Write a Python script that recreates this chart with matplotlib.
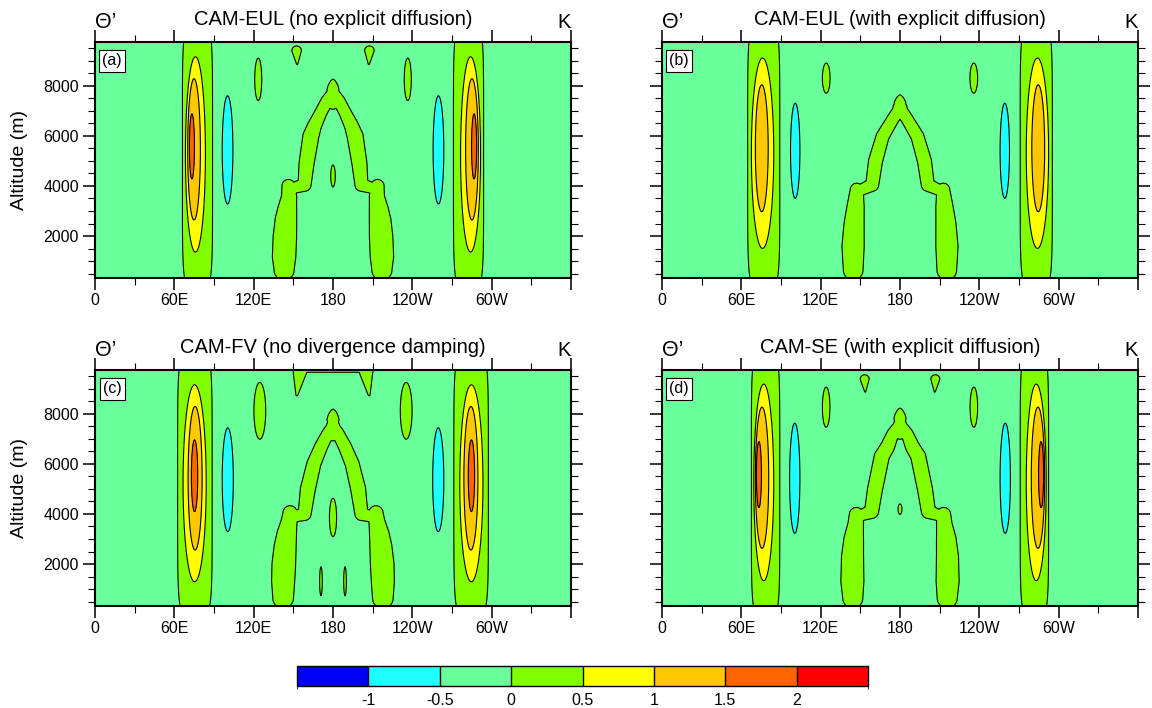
import numpy as np
import matplotlib
matplotlib.use("Agg")
import matplotlib.pyplot as plt
from matplotlib.colors import ListedColormap, BoundaryNorm
import matplotlib.colorbar as mcolorbar

plt.rcParams['font.family'] = ['Liberation Sans', 'DejaVu Sans']

titles = ["CAM-EUL (no explicit diffusion)", "CAM-EUL (with explicit diffusion)",
          "CAM-FV (no divergence damping)", "CAM-SE (with explicit diffusion)"]
tags = ["(a)", "(b)", "(c)", "(d)"]

levels = [-1.5, -1, -0.5, 0, 0.5, 1, 1.5, 2, 2.5]
colors = ["#0000f5", "#1effff", "#69ff9b", "#80ff00", "#ffff00", "#ffc800", "#ff6400", "#ff0000"]
cb_labels = ["-1", "-0.5", "0", "0.5", "1", "1.5", "2"]

lon_ticks = [0, 60, 120, 180, 240, 300, 360]
lon_labels = ["0", "60E", "120E", "180", "120W", "60W", ""]
alt_ticks = [2000, 4000, 6000, 8000]
alt_lo, alt_hi = 325, 9750

# western half of each panel (east half is the mirror about 180)
# boxes are (lon0, lon1, alt0, alt1) of each closed contour
col_green = [(66.1, 88.9), (64.8, 89.1), (62.5, 88.6), (67.6, 89.1)]
col_yellow = [(68.4, 83.5, 1360, 9160), (67.6, 84.5, 1507, 9107),
              (66.6, 84.1, 1293, 9160), (69.4, 84.5, 1333, 9187)]
col_orange = [(70.1, 79.7, 2640, 8280), (70.6, 80.3, 2973, 8040),
              (70.4, 81.0, 2560, 8293), (70.6, 80.7, 2627, 8267)]
col_dorange = [(71.4, 75.2, 4280, 6880), None, (72.9, 77.7, 4093, 6960), (71.4, 75.2, 4253, 6893)]
cold_cells = [(96.2, 104.3, 3280, 7600), (97.2, 104.3, 3507, 7307),
              (96.2, 104.6, 3293, 7440), (96.5, 104.3, 3227, 7627)]
warm_cells = [
    [(120.8, 126.1, 7413, 9107), (178.3, 181.7, 3960, 4840)],
    [(121.3, 127.1, 7707, 8907)],
    [(120.2, 129.1, 6987, 9253), (177.3, 182.7, 3093, 4627), (169.9, 171.9, 733, 1893)],
    [(121.3, 127.0, 7467, 9067), (178.5, 181.5, 3987, 4400)],
]
# top of the arch at 180: rounded inner cap and pointed outer cap (lon0, lon1, alt0, alt1, shape)
apex_cells = [
    [(174.5, 185.5, 7067, 7900, 2.0), (175.5, 184.5, 7400, 8267, 1.5)],
    [(174.5, 185.5, 6707, 7400, 2.0), (175.5, 184.5, 6900, 7640, 1.5)],
    [(174.5, 185.5, 6920, 7800, 2.0), (175.5, 184.5, 7350, 8187, 1.5)],
    [(174.5, 185.5, 6987, 7850, 2.0), (175.5, 184.5, 7400, 8227, 1.5)],
]
# bands: (lon, alt, half width in px) along the centre line
arch_legs = [
    [(143.0, 640, 10.0), (143.0, 1173, 11.7), (143.6, 1973, 11.7), (144.4, 2640, 10.8),
     (145.3, 3040, 9.6), (146.8, 3573, 7.6), (146.3, 4000, 6.5)],
    [(144.6, 640, 9.8), (144.5, 1575, 11.1), (145.3, 2507, 10.0), (146.4, 3173, 8.6), (147.3, 3850, 6.5)],
    [(142.3, 640, 10.3), (142.3, 1300, 11.5), (142.8, 2000, 11.8), (143.8, 2700, 11.0),
     (145.0, 3200, 9.8), (146.8, 3700, 8.0), (147.5, 4050, 7.0)],
    [(144.3, 640, 10.0), (144.0, 1300, 11.5), (144.1, 2293, 11.0), (145.0, 3000, 9.8),
     (146.5, 3600, 7.8), (147.0, 3980, 7.0)],
]
arch_arms = [
    [(151.0, 3930, 5.5), (158.5, 4050, 6.5), (160.0, 4900, 7.5), (163.3, 6000, 8.0), (166.0, 6400, 7.0),
     (171.0, 6950, 6.0), (175.5, 7400, 6.0), (180.0, 7700, 6.0)],
    [(151.0, 3850, 5.5), (159.0, 4050, 6.5), (161.5, 5000, 7.0), (166.8, 5973, 6.5),
     (174.2, 6640, 6.0), (180.0, 7100, 6.0)],
    [(151.0, 3900, 5.5), (158.5, 4000, 6.5), (161.0, 5000, 7.5), (165.5, 6000, 7.0), (171.0, 6693, 6.5),
     (176.0, 7200, 6.0), (180.0, 7500, 6.0)],
    [(151.0, 3950, 5.5), (158.5, 4100, 7.0), (161.0, 4960, 7.5), (166.2, 6293, 7.5), (170.6, 6690, 7.0),
     (174.5, 7190, 6.0), (180.0, 7550, 6.0)],
]
top_drops = [
    [[(152.5, 9400, 4.8), (152.9, 8870, 0.6)]],
    [],
    [[(155.0, 9700, 7.0), (152.7, 8760, 1.0)], [(155.0, 9800, 3.5), (181.0, 9800, 3.5)]],
    [[(153.3, 9380, 4.5), (153.7, 8890, 0.6)]],
]

lon = np.linspace(0, 360, 1441)
alt = np.linspace(alt_lo, alt_hi, 480)
LON, ALT = np.meshgrid(lon, alt)
px_deg = 475 / 360.0
px_m = 50 / 2000.0


def ellipse(box, p=2.0):
    l0, l1, z0, z1 = box[:4]
    a, b = (l1 - l0) / 2, (z1 - z0) / 2
    r = (np.abs((LON - (l0 + l1) / 2) / a) ** p + np.abs((ALT - (z0 + z1) / 2) / b) ** p) ** (1 / p)
    return 1 - r


def band(pts):
    X, Z = LON * px_deg, ALT * px_m
    s = np.full(LON.shape, -np.inf)
    for (l0, z0, w0), (l1, z1, w1) in zip(pts[:-1], pts[1:]):
        x0, y0 = l0 * px_deg, z0 * px_m
        dx, dy = (l1 - l0) * px_deg, (z1 - z0) * px_m
        t = np.clip(((X - x0) * dx + (Z - y0) * dy) / (dx * dx + dy * dy), 0, 1)
        d = np.hypot(X - x0 - t * dx, Z - y0 - t * dy)
        s = np.maximum(s, 1 - d / (w0 + t * (w1 - w0)))
    return s


def both(box):
    return np.maximum(ellipse(box), ellipse((360 - box[1], 360 - box[0], box[2], box[3])))


def both_band(pts):
    return np.maximum(band(pts), band([(360 - l, z, w) for l, z, w in pts]))


fig = plt.figure(figsize=(11.52, 7.08), dpi=100)
W, H = 1152.0, 708.0
boxes = [(95, 42), (662, 42), (95, 370), (662, 370)]

for i in range(4):
    x0, y0 = boxes[i]
    ax = fig.add_axes([x0 / W, 1 - (y0 + 236) / H, 476 / W, 236 / H])
    ax.set_facecolor(colors[2])

    g = col_green[i]
    s_green = np.maximum(ellipse((g[0], g[1], -100, 10500), 6),
                         ellipse((360 - g[1], 360 - g[0], -100, 10500), 6))
    for b in warm_cells[i]:
        s_green = np.maximum(s_green, both(b))
    for b in apex_cells[i]:
        s_green = np.maximum(s_green, ellipse(b, b[4]))
    for pts in [arch_legs[i], arch_arms[i]] + top_drops[i]:
        s_green = np.maximum(s_green, both_band(pts))

    layers = [(s_green, colors[3]), (both(cold_cells[i]), colors[1]),
              (both(col_yellow[i]), colors[4]), (both(col_orange[i]), colors[5])]
    if col_dorange[i] is not None:
        layers.append((both(col_dorange[i]), colors[6]))
    for s, c in layers:
        ax.contourf(lon, alt, s, levels=[0, 10], colors=[c])
        ax.contour(lon, alt, s, levels=[0], colors='k', linewidths=0.8)

    ax.set_xlim(0, 360)
    ax.set_ylim(alt_lo, alt_hi)
    ax.set_xticks(lon_ticks)
    ax.set_xticklabels(lon_labels)
    ax.set_xticks(np.arange(30, 360, 60), minor=True)
    ax.set_yticks(alt_ticks)
    ax.set_yticks(np.arange(500, 9750, 500), minor=True)
    ax.tick_params(which='both', direction='out', top=True, right=True, labelsize=11.5)
    ax.tick_params(which='major', length=8.6, width=1.1)
    ax.tick_params(which='minor', length=5, width=0.8)
    ax.tick_params(axis='x', pad=2)
    ax.tick_params(axis='y', pad=3)
    for sp in ax.spines.values():
        sp.set_linewidth(1.5)
    if i % 2 == 0:
        ax.set_ylabel("Altitude (m)", fontsize=14)
        ax.yaxis.set_label_coords(-0.141, 0.5)
    else:
        ax.tick_params(labelleft=False)

    ax.text(0.5, 1.072, titles[i], transform=ax.transAxes, ha='center', va='baseline', fontsize=14.5)
    ax.text(0.0, 1.06, "\u0398\u2019", transform=ax.transAxes, ha='left', va='baseline', fontsize=15.5)
    ax.text(1.0, 1.06, "K", transform=ax.transAxes, ha='right', va='baseline', fontsize=14.5)
    ax.text(0.036, 0.92, tags[i], transform=ax.transAxes, ha='center', va='center', fontsize=11.5,
            bbox=dict(boxstyle='square,pad=0.2', fc='white', ec='black', lw=0.8))

cax = fig.add_axes([297 / W, 1 - 686 / H, 571 / W, 20 / H])
cmap = ListedColormap(colors)
norm = BoundaryNorm(levels, cmap.N)
cb = mcolorbar.ColorbarBase(cax, cmap=cmap, norm=norm, orientation='horizontal',
                            ticks=levels[1:-1], drawedges=True)
cb.set_ticklabels(cb_labels)
cb.ax.tick_params(length=0, labelsize=11.5, pad=5)
cb.outline.set_linewidth(1)
cb.dividers.set_linewidth(1)

fig.savefig("out.png", dpi=100)
